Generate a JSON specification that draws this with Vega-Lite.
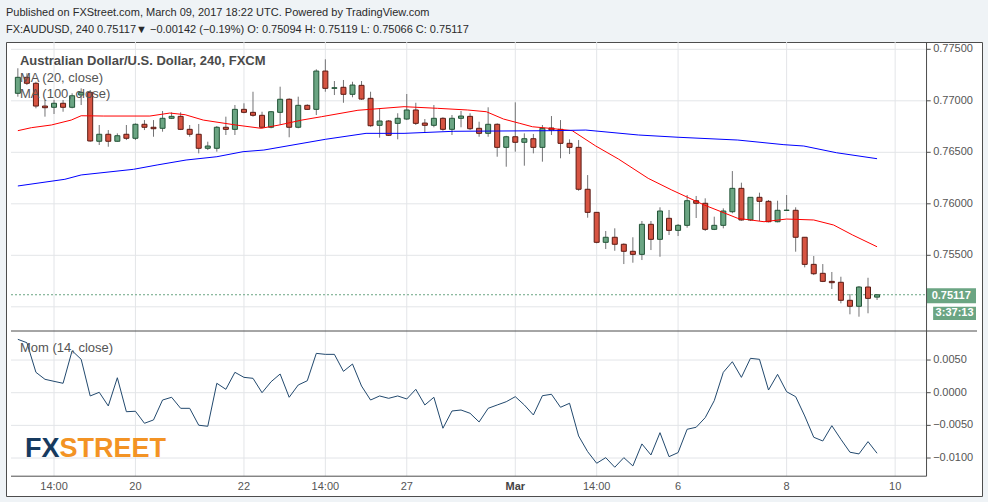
{
  "$schema": "https://vega.github.io/schema/vega-lite/v6.json",
  "width": 976,
  "height": 454,
  "autosize": "none",
  "padding": {"left": 6, "top": 42, "right": 6, "bottom": 6},
  "background": "#eff3f6",
  "title": {
    "text": ["Published on FXStreet.com, March 09, 2017 18:22 UTC. Powered by TradingView.com", "FX:AUDUSD, 240 0.75117▼  −0.00142 (−0.19%)  O: 0.75094  H: 0.75119  L: 0.75066  C: 0.75117"],
    "anchor": "start",
    "frame": "group",
    "font": "Liberation Sans",
    "fontSize": 11,
    "fontWeight": "normal",
    "color": "#2a2a2a",
    "lineHeight": 17,
    "offset": 7
  },
  "config": {
    "view": {"stroke": "#4d4d4d", "fill": "#ffffff", "strokeWidth": 1}
  },
  "datasets": {
    "ticks": [{"i": -9, "t": "14:00"}, {"i": 0, "t": "20"}, {"i": 12, "t": "22"}, {"i": 21, "t": "14:00"}, {"i": 30, "t": "27"}, {"i": 42, "t": "Mar"}, {"i": 51, "t": "14:00"}, {"i": 60, "t": "6"}, {"i": 72, "t": "8"}, {"i": 84, "t": "10"}],
    "priceGrid": [{"v": 0.750}, {"v": 0.755}, {"v": 0.760}, {"v": 0.765}, {"v": 0.770}, {"v": 0.775}],
    "momGrid": [{"v": -0.010}, {"v": -0.005}, {"v": 0.0}, {"v": 0.005}],
    "candles": [
      {"i": -13, "o": 0.77073, "h": 0.77316, "l": 0.77040, "c": 0.77228},
      {"i": -12, "o": 0.77228, "h": 0.77267, "l": 0.77153, "c": 0.77170},
      {"i": -11, "o": 0.77170, "h": 0.77185, "l": 0.76927, "c": 0.76949},
      {"i": -10, "o": 0.76949, "h": 0.77008, "l": 0.76846, "c": 0.76933},
      {"i": -9, "o": 0.76937, "h": 0.77008, "l": 0.76872, "c": 0.76976},
      {"i": -8, "o": 0.76976, "h": 0.77008, "l": 0.76894, "c": 0.76937},
      {"i": -7, "o": 0.76937, "h": 0.77073, "l": 0.76927, "c": 0.77049},
      {"i": -6, "o": 0.77056, "h": 0.77121, "l": 0.76959, "c": 0.77082},
      {"i": -5, "o": 0.77082, "h": 0.77105, "l": 0.76603, "c": 0.76610},
      {"i": -4, "o": 0.76607, "h": 0.76765, "l": 0.76571, "c": 0.76675},
      {"i": -3, "o": 0.76675, "h": 0.76716, "l": 0.76554, "c": 0.76607},
      {"i": -2, "o": 0.76607, "h": 0.76684, "l": 0.76603, "c": 0.76661},
      {"i": -1, "o": 0.76675, "h": 0.76765, "l": 0.76619, "c": 0.76636},
      {"i": 0, "o": 0.76636, "h": 0.76781, "l": 0.76619, "c": 0.76772},
      {"i": 1, "o": 0.76772, "h": 0.76813, "l": 0.76716, "c": 0.76743},
      {"i": 2, "o": 0.76743, "h": 0.76813, "l": 0.76651, "c": 0.76729},
      {"i": 3, "o": 0.76733, "h": 0.76901, "l": 0.76700, "c": 0.76830},
      {"i": 4, "o": 0.76830, "h": 0.76888, "l": 0.76823, "c": 0.76849},
      {"i": 5, "o": 0.76849, "h": 0.76888, "l": 0.76716, "c": 0.76723},
      {"i": 6, "o": 0.76723, "h": 0.76765, "l": 0.76651, "c": 0.76675},
      {"i": 7, "o": 0.76675, "h": 0.76775, "l": 0.76490, "c": 0.76539},
      {"i": 8, "o": 0.76539, "h": 0.76603, "l": 0.76522, "c": 0.76561},
      {"i": 9, "o": 0.76539, "h": 0.76755, "l": 0.76506, "c": 0.76743},
      {"i": 10, "o": 0.76743, "h": 0.76846, "l": 0.76668, "c": 0.76723},
      {"i": 11, "o": 0.76723, "h": 0.76959, "l": 0.76668, "c": 0.76917},
      {"i": 12, "o": 0.76917, "h": 0.76976, "l": 0.76879, "c": 0.76888},
      {"i": 13, "o": 0.76888, "h": 0.77088, "l": 0.76846, "c": 0.76859},
      {"i": 14, "o": 0.76859, "h": 0.76894, "l": 0.76733, "c": 0.76743},
      {"i": 15, "o": 0.76743, "h": 0.76901, "l": 0.76733, "c": 0.76894},
      {"i": 16, "o": 0.76888, "h": 0.77137, "l": 0.76765, "c": 0.77015},
      {"i": 17, "o": 0.77015, "h": 0.77024, "l": 0.76646, "c": 0.76743},
      {"i": 18, "o": 0.76743, "h": 0.77040, "l": 0.76733, "c": 0.76956},
      {"i": 19, "o": 0.76956, "h": 0.76966, "l": 0.76911, "c": 0.76917},
      {"i": 20, "o": 0.76917, "h": 0.77306, "l": 0.76862, "c": 0.77289},
      {"i": 21, "o": 0.77289, "h": 0.77403, "l": 0.77088, "c": 0.77121},
      {"i": 22, "o": 0.77121, "h": 0.77192, "l": 0.77056, "c": 0.77127},
      {"i": 23, "o": 0.77131, "h": 0.77202, "l": 0.76981, "c": 0.77063},
      {"i": 24, "o": 0.77063, "h": 0.77185, "l": 0.77034, "c": 0.77153},
      {"i": 25, "o": 0.77150, "h": 0.77192, "l": 0.77008, "c": 0.77017},
      {"i": 26, "o": 0.77024, "h": 0.77088, "l": 0.76748, "c": 0.76758},
      {"i": 27, "o": 0.76762, "h": 0.76927, "l": 0.76642, "c": 0.76804},
      {"i": 28, "o": 0.76804, "h": 0.76813, "l": 0.76658, "c": 0.76665},
      {"i": 29, "o": 0.76781, "h": 0.76879, "l": 0.76626, "c": 0.76830},
      {"i": 30, "o": 0.76823, "h": 0.77066, "l": 0.76813, "c": 0.76911},
      {"i": 31, "o": 0.76911, "h": 0.76981, "l": 0.76765, "c": 0.76781},
      {"i": 32, "o": 0.76784, "h": 0.76823, "l": 0.76690, "c": 0.76762},
      {"i": 33, "o": 0.76762, "h": 0.76959, "l": 0.76743, "c": 0.76830},
      {"i": 34, "o": 0.76830, "h": 0.76840, "l": 0.76710, "c": 0.76723},
      {"i": 35, "o": 0.76723, "h": 0.76862, "l": 0.76668, "c": 0.76830},
      {"i": 36, "o": 0.76830, "h": 0.76901, "l": 0.76743, "c": 0.76852},
      {"i": 37, "o": 0.76849, "h": 0.76879, "l": 0.76716, "c": 0.76729},
      {"i": 38, "o": 0.76733, "h": 0.76797, "l": 0.76651, "c": 0.76684},
      {"i": 39, "o": 0.76684, "h": 0.76937, "l": 0.76651, "c": 0.76772},
      {"i": 40, "o": 0.76772, "h": 0.76781, "l": 0.76457, "c": 0.76548},
      {"i": 41, "o": 0.76548, "h": 0.76660, "l": 0.76360, "c": 0.76651},
      {"i": 42, "o": 0.76651, "h": 0.76985, "l": 0.76506, "c": 0.76597},
      {"i": 43, "o": 0.76597, "h": 0.76684, "l": 0.76370, "c": 0.76632},
      {"i": 44, "o": 0.76632, "h": 0.76678, "l": 0.76490, "c": 0.76548},
      {"i": 45, "o": 0.76548, "h": 0.76765, "l": 0.76409, "c": 0.76733},
      {"i": 46, "o": 0.76736, "h": 0.76852, "l": 0.76668, "c": 0.76716},
      {"i": 47, "o": 0.76723, "h": 0.76813, "l": 0.76442, "c": 0.76587},
      {"i": 48, "o": 0.76587, "h": 0.76626, "l": 0.76483, "c": 0.76548},
      {"i": 49, "o": 0.76548, "h": 0.76619, "l": 0.76127, "c": 0.76141},
      {"i": 50, "o": 0.76141, "h": 0.76279, "l": 0.75865, "c": 0.75917},
      {"i": 51, "o": 0.75917, "h": 0.75917, "l": 0.75616, "c": 0.75626},
      {"i": 52, "o": 0.75626, "h": 0.75736, "l": 0.75561, "c": 0.75675},
      {"i": 53, "o": 0.75675, "h": 0.75762, "l": 0.75544, "c": 0.75607},
      {"i": 54, "o": 0.75607, "h": 0.75616, "l": 0.75415, "c": 0.75539},
      {"i": 55, "o": 0.75539, "h": 0.75675, "l": 0.75428, "c": 0.75509},
      {"i": 56, "o": 0.75509, "h": 0.75833, "l": 0.75454, "c": 0.75801},
      {"i": 57, "o": 0.75801, "h": 0.75833, "l": 0.75551, "c": 0.75655},
      {"i": 58, "o": 0.75655, "h": 0.75966, "l": 0.75486, "c": 0.75930},
      {"i": 59, "o": 0.75859, "h": 0.75940, "l": 0.75697, "c": 0.75742},
      {"i": 60, "o": 0.75742, "h": 0.75804, "l": 0.75687, "c": 0.75791},
      {"i": 61, "o": 0.75791, "h": 0.76085, "l": 0.75768, "c": 0.76030},
      {"i": 62, "o": 0.76030, "h": 0.76076, "l": 0.75862, "c": 0.76005},
      {"i": 63, "o": 0.76005, "h": 0.76053, "l": 0.75736, "c": 0.75752},
      {"i": 64, "o": 0.75752, "h": 0.75875, "l": 0.75745, "c": 0.75791},
      {"i": 65, "o": 0.75791, "h": 0.75956, "l": 0.75762, "c": 0.75930},
      {"i": 66, "o": 0.75923, "h": 0.76318, "l": 0.75908, "c": 0.76150},
      {"i": 67, "o": 0.76150, "h": 0.76205, "l": 0.75836, "c": 0.75843},
      {"i": 68, "o": 0.75843, "h": 0.76063, "l": 0.75833, "c": 0.76063},
      {"i": 69, "o": 0.76063, "h": 0.76108, "l": 0.75833, "c": 0.76024},
      {"i": 70, "o": 0.76024, "h": 0.76037, "l": 0.75820, "c": 0.75826},
      {"i": 71, "o": 0.75826, "h": 0.76030, "l": 0.75820, "c": 0.75937},
      {"i": 72, "o": 0.75936, "h": 0.76085, "l": 0.75930, "c": 0.75938},
      {"i": 73, "o": 0.75937, "h": 0.75966, "l": 0.75535, "c": 0.75675},
      {"i": 74, "o": 0.75675, "h": 0.75675, "l": 0.75383, "c": 0.75412},
      {"i": 75, "o": 0.75412, "h": 0.75493, "l": 0.75308, "c": 0.75321},
      {"i": 76, "o": 0.75325, "h": 0.75415, "l": 0.75240, "c": 0.75247},
      {"i": 77, "o": 0.75247, "h": 0.75338, "l": 0.75173, "c": 0.75234},
      {"i": 78, "o": 0.75238, "h": 0.75292, "l": 0.75034, "c": 0.75063},
      {"i": 79, "o": 0.75063, "h": 0.75124, "l": 0.74927, "c": 0.75005},
      {"i": 80, "o": 0.75005, "h": 0.75202, "l": 0.74904, "c": 0.75192},
      {"i": 81, "o": 0.75192, "h": 0.75282, "l": 0.74937, "c": 0.75082},
      {"i": 82, "o": 0.75094, "h": 0.75119, "l": 0.75066, "c": 0.75117}
    ],
    "ma20": [
      {"i": -13, "v": 0.76710}, {"i": -11.5, "v": 0.76739}, {"i": -9.3, "v": 0.76765}, {"i": -7.1, "v": 0.76813},
      {"i": -6, "v": 0.76855}, {"i": -3.5, "v": 0.76852}, {"i": 1.6, "v": 0.76852}, {"i": 3.8, "v": 0.76881},
      {"i": 5.5, "v": 0.76865}, {"i": 7.5, "v": 0.76813}, {"i": 11.1, "v": 0.76765}, {"i": 13.9, "v": 0.76733},
      {"i": 15.9, "v": 0.76765}, {"i": 18.4, "v": 0.76813}, {"i": 20.6, "v": 0.76846}, {"i": 24.6, "v": 0.76908},
      {"i": 29.7, "v": 0.76943}, {"i": 33.4, "v": 0.76927}, {"i": 36.7, "v": 0.76911}, {"i": 38.8, "v": 0.76894},
      {"i": 40.7, "v": 0.76823}, {"i": 42.5, "v": 0.76781}, {"i": 43.9, "v": 0.76748}, {"i": 45.8, "v": 0.76733},
      {"i": 48.3, "v": 0.76710}, {"i": 50.9, "v": 0.76561}, {"i": 53.4, "v": 0.76435}, {"i": 56.7, "v": 0.76247},
      {"i": 59.3, "v": 0.76134}, {"i": 62.9, "v": 0.75988}, {"i": 66.6, "v": 0.75859}, {"i": 69.5, "v": 0.75826},
      {"i": 72, "v": 0.75852}, {"i": 75, "v": 0.75843}, {"i": 77.2, "v": 0.75794}, {"i": 79.3, "v": 0.75697},
      {"i": 82, "v": 0.75583}
    ],
    "ma100": [
      {"i": -13, "v": 0.76173}, {"i": -7.8, "v": 0.76238}, {"i": -6, "v": 0.76280}, {"i": -0.2, "v": 0.76335},
      {"i": 2.4, "v": 0.76377}, {"i": 5.6, "v": 0.76425}, {"i": 9, "v": 0.76457}, {"i": 11.9, "v": 0.76506},
      {"i": 14.2, "v": 0.76522}, {"i": 21, "v": 0.76626}, {"i": 25.5, "v": 0.76684}, {"i": 29.7, "v": 0.76684},
      {"i": 35.2, "v": 0.76704}, {"i": 46.1, "v": 0.76710}, {"i": 49.8, "v": 0.76716}, {"i": 55.6, "v": 0.76668},
      {"i": 60, "v": 0.76646}, {"i": 66.6, "v": 0.76619}, {"i": 71.7, "v": 0.76574}, {"i": 73.9, "v": 0.76561},
      {"i": 77.5, "v": 0.76496}, {"i": 82, "v": 0.76438}
    ],
    "mom": [
      {"i": -13, "m": 0.00817}, {"i": -12, "m": 0.00765}, {"i": -11, "m": 0.00312}, {"i": -10, "m": 0.00205},
      {"i": -9, "m": 0.00174}, {"i": -8, "m": 0.00144}, {"i": -7, "m": 0.00642}, {"i": -6, "m": 0.00511},
      {"i": -5, "m": -0.0005}, {"i": -4, "m": 0.00006}, {"i": -3, "m": -0.00203}, {"i": -2, "m": 0.00229},
      {"i": -1, "m": -0.00291}, {"i": 0, "m": -0.00284}, {"i": 1, "m": -0.00468}, {"i": 2, "m": -0.00417},
      {"i": 3, "m": -0.00112}, {"i": 4, "m": -0.0007}, {"i": 5, "m": -0.00239}, {"i": 6, "m": -0.00239},
      {"i": 7, "m": -0.00498}, {"i": 8, "m": -0.00514}, {"i": 9, "m": 0.00144}, {"i": 10, "m": 0.00052},
      {"i": 11, "m": 0.00312}, {"i": 12, "m": 0.00235}, {"i": 13, "m": 0.0022}, {"i": 14, "m": 0.0},
      {"i": 15, "m": 0.00168}, {"i": 16, "m": 0.00286}, {"i": 17, "m": -0.0007}, {"i": 18, "m": 0.00118},
      {"i": 19, "m": 0.00183}, {"i": 20, "m": 0.00602}, {"i": 21, "m": 0.00587}, {"i": 22, "m": 0.00587},
      {"i": 23, "m": 0.00327}, {"i": 24, "m": 0.00439}, {"i": 25, "m": 0.00102}, {"i": 26, "m": -0.00112},
      {"i": 27, "m": -0.0005}, {"i": 28, "m": -0.00086}, {"i": 29, "m": -0.0005}, {"i": 30, "m": -0.00096},
      {"i": 31, "m": 0.00052}, {"i": 32, "m": -0.00188}, {"i": 33, "m": -0.0007}, {"i": 34, "m": -0.00544},
      {"i": 35, "m": -0.0028}, {"i": 36, "m": -0.00265}, {"i": 37, "m": -0.00315}, {"i": 38, "m": -0.00448},
      {"i": 39, "m": -0.00239}, {"i": 40, "m": -0.00188}, {"i": 41, "m": -0.00138}, {"i": 42, "m": -0.00061},
      {"i": 43, "m": -0.00188}, {"i": 44, "m": -0.00341}, {"i": 45, "m": -0.00046}, {"i": 46, "m": -0.00024},
      {"i": 47, "m": -0.00223}, {"i": 48, "m": -0.00162}, {"i": 49, "m": -0.00662}, {"i": 50, "m": -0.00902},
      {"i": 51, "m": -0.0108}, {"i": 52, "m": -0.00994}, {"i": 53, "m": -0.01141}, {"i": 54, "m": -0.00994},
      {"i": 55, "m": -0.01121}, {"i": 56, "m": -0.00784}, {"i": 57, "m": -0.00953}, {"i": 58, "m": -0.00612},
      {"i": 59, "m": -0.00979}, {"i": 60, "m": -0.00917}, {"i": 61, "m": -0.0056}, {"i": 62, "m": -0.00529},
      {"i": 63, "m": -0.00382}, {"i": 64, "m": -0.00122}, {"i": 65, "m": 0.00312}, {"i": 66, "m": 0.00474},
      {"i": 67, "m": 0.00235}, {"i": 68, "m": 0.00526}, {"i": 69, "m": 0.00511}, {"i": 70, "m": 0.00041},
      {"i": 71, "m": 0.00281}, {"i": 72, "m": 0.00015}, {"i": 73, "m": -0.00061}, {"i": 74, "m": -0.00356},
      {"i": 75, "m": -0.00682}, {"i": 76, "m": -0.00739}, {"i": 77, "m": -0.00505}, {"i": 78, "m": -0.00713},
      {"i": 79, "m": -0.00911}, {"i": 80, "m": -0.00937}, {"i": 81, "m": -0.00749}, {"i": 82, "m": -0.00927}
    ]
  },
  "resolve": {"scale": {"y": "independent"}},
  "layer": [
    {
      "layer": [
        {
          "data": {"name": "ticks"},
          "mark": {"type": "rule", "color": "#e3e5e8", "strokeWidth": 1},
          "encoding": {
            "x": {"field": "i", "type": "quantitative", "scale": {"domain": [-13.757, 93.05], "nice": false, "zero": false}, "axis": null},
            "y": {"datum": 0.775709, "type": "quantitative", "scale": {"domain": [0.731631, 0.775709], "nice": false, "zero": false}, "axis": null},
            "y2": {"datum": 0.733573}
          }
        },
        {
          "data": {"name": "priceGrid"},
          "mark": {"type": "rule", "color": "#e3e5e8", "strokeWidth": 1},
          "encoding": {
            "y": {"field": "v", "type": "quantitative", "scale": {"domain": [0.731631, 0.775709], "nice": false, "zero": false}, "axis": null},
            "x": {"datum": -13.757, "type": "quantitative", "scale": {"domain": [-13.757, 93.05], "nice": false, "zero": false}, "axis": null},
            "x2": {"datum": 87.47}
          }
        },
        {
          "data": {"name": "priceGrid"},
          "transform": [{"filter": "datum.v > 0.7525"}],
          "mark": {"type": "rule", "color": "#4d4d4d", "strokeWidth": 1},
          "encoding": {
            "y": {"field": "v", "type": "quantitative", "scale": {"domain": [0.731631, 0.775709], "nice": false, "zero": false}, "axis": null},
            "x": {"datum": 87.47, "type": "quantitative", "scale": {"domain": [-13.757, 93.05], "nice": false, "zero": false}, "axis": null},
            "x2": {"datum": 87.93}
          }
        },
        {
          "data": {"name": "priceGrid"},
          "transform": [{"filter": "datum.v > 0.7525"}],
          "mark": {"type": "text", "color": "#555555", "font": "Liberation Sans", "fontSize": 11, "align": "left", "baseline": "middle"},
          "encoding": {
            "y": {"field": "v", "type": "quantitative", "scale": {"domain": [0.731631, 0.775709], "nice": false, "zero": false}, "axis": null},
            "x": {"datum": 88.2, "type": "quantitative", "scale": {"domain": [-13.757, 93.05], "nice": false, "zero": false}, "axis": null},
            "text": {"field": "v", "type": "quantitative", "format": ".5f"}
          }
        },
        {
          "data": {"values": [{"p": 0.75117}]},
          "mark": {"type": "rule", "color": "#6ba583", "strokeWidth": 1, "strokeDash": [2, 2]},
          "encoding": {
            "y": {"field": "p", "type": "quantitative", "scale": {"domain": [0.731631, 0.775709], "nice": false, "zero": false}, "axis": null},
            "x": {"datum": -13.757, "type": "quantitative", "scale": {"domain": [-13.757, 93.05], "nice": false, "zero": false}, "axis": null},
            "x2": {"datum": 87.47}
          }
        },
        {
          "data": {"name": "candles"},
          "mark": {"type": "rule", "color": "#737375", "strokeWidth": 1},
          "encoding": {
            "x": {"field": "i", "type": "quantitative", "scale": {"domain": [-13.757, 93.05], "nice": false, "zero": false}, "axis": null},
            "y": {"field": "l", "type": "quantitative", "scale": {"domain": [0.731631, 0.775709], "nice": false, "zero": false}, "axis": null},
            "y2": {"field": "h"}
          }
        },
        {
          "data": {"name": "candles"},
          "mark": {"type": "bar", "size": 5, "strokeWidth": 1},
          "encoding": {
            "x": {"field": "i", "type": "quantitative", "scale": {"domain": [-13.757, 93.05], "nice": false, "zero": false}, "axis": null},
            "y": {"field": "o", "type": "quantitative", "scale": {"domain": [0.731631, 0.775709], "nice": false, "zero": false}, "axis": null},
            "y2": {"field": "c"},
            "fill": {"condition": {"test": "datum.c >= datum.o", "value": "#6ba583"}, "value": "#d75442"},
            "stroke": {"condition": {"test": "datum.c >= datum.o", "value": "#225437"}, "value": "#5b1a13"}
          }
        },
        {
          "data": {"name": "ma20"},
          "mark": {"type": "line", "color": "#ff0000", "strokeWidth": 1},
          "encoding": {
            "x": {"field": "i", "type": "quantitative", "scale": {"domain": [-13.757, 93.05], "nice": false, "zero": false}, "axis": null},
            "y": {"field": "v", "type": "quantitative", "scale": {"domain": [0.731631, 0.775709], "nice": false, "zero": false}, "axis": null}
          }
        },
        {
          "data": {"name": "ma100"},
          "mark": {"type": "line", "color": "#0000ff", "strokeWidth": 1},
          "encoding": {
            "x": {"field": "i", "type": "quantitative", "scale": {"domain": [-13.757, 93.05], "nice": false, "zero": false}, "axis": null},
            "y": {"field": "v", "type": "quantitative", "scale": {"domain": [0.731631, 0.775709], "nice": false, "zero": false}, "axis": null}
          }
        },
        {
          "data": {"values": [{}]},
          "mark": {"type": "rect", "color": "#6ba583"},
          "encoding": {
            "x": {"datum": 87.47, "type": "quantitative", "scale": {"domain": [-13.757, 93.05], "nice": false, "zero": false}, "axis": null},
            "x2": {"datum": 92.94},
            "y": {"datum": 0.751796, "type": "quantitative", "scale": {"domain": [0.731631, 0.775709], "nice": false, "zero": false}, "axis": null},
            "y2": {"datum": 0.75034}
          }
        },
        {
          "data": {"values": [{}]},
          "mark": {"type": "rect", "color": "#6ba583"},
          "encoding": {
            "x": {"datum": 88.2, "type": "quantitative", "scale": {"domain": [-13.757, 93.05], "nice": false, "zero": false}, "axis": null},
            "x2": {"datum": 92.94},
            "y": {"datum": 0.75001, "type": "quantitative", "scale": {"domain": [0.731631, 0.775709], "nice": false, "zero": false}, "axis": null},
            "y2": {"datum": 0.748718}
          }
        },
        {
          "data": {"values": [{"t": "0.75117", "x": 90.2, "p": 0.751068}, {"t": "3:37:13", "x": 90.57, "p": 0.749369}]},
          "mark": {"type": "text", "color": "#ffffff", "font": "Liberation Sans", "fontSize": 11, "fontWeight": "bold", "align": "center", "baseline": "middle"},
          "encoding": {
            "x": {"field": "x", "type": "quantitative", "scale": {"domain": [-13.757, 93.05], "nice": false, "zero": false}, "axis": null},
            "y": {"field": "p", "type": "quantitative", "scale": {"domain": [0.731631, 0.775709], "nice": false, "zero": false}, "axis": null},
            "text": {"field": "t"}
          }
        },
        {
          "data": {"values": [{}]},
          "mark": {"type": "text", "color": "#4a4a4a", "font": "Liberation Sans", "fontSize": 13, "fontWeight": "bold", "align": "left", "baseline": "middle"},
          "encoding": {
            "x": {"datum": -12.77, "type": "quantitative", "scale": {"domain": [-13.757, 93.05], "nice": false, "zero": false}, "axis": null},
            "y": {"datum": 0.773864, "type": "quantitative", "scale": {"domain": [0.731631, 0.775709], "nice": false, "zero": false}, "axis": null},
            "text": {"value": "Australian Dollar/U.S. Dollar, 240, FXCM"}
          }
        },
        {
          "data": {"values": [{"t": "MA (20, close)", "p": 0.772262}, {"t": "MA (100, close)", "p": 0.77066}]},
          "mark": {"type": "text", "color": "#555555", "font": "Liberation Sans", "fontSize": 13, "align": "left", "baseline": "middle"},
          "encoding": {
            "x": {"datum": -12.77, "type": "quantitative", "scale": {"domain": [-13.757, 93.05], "nice": false, "zero": false}, "axis": null},
            "y": {"field": "p", "type": "quantitative", "scale": {"domain": [0.731631, 0.775709], "nice": false, "zero": false}, "axis": null},
            "text": {"field": "t"}
          }
        }
      ]
    },
    {
      "layer": [
        {
          "data": {"name": "momGrid"},
          "mark": {"type": "rule", "color": "#e3e5e8", "strokeWidth": 1},
          "encoding": {
            "y": {"field": "v", "type": "quantitative", "scale": {"domain": [-0.015812, 0.053681], "nice": false, "zero": false}, "axis": null},
            "x": {"datum": -13.757, "type": "quantitative", "scale": {"domain": [-13.757, 93.05], "nice": false, "zero": false}, "axis": null},
            "x2": {"datum": 87.47}
          }
        },
        {
          "data": {"name": "momGrid"},
          "mark": {"type": "rule", "color": "#4d4d4d", "strokeWidth": 1},
          "encoding": {
            "y": {"field": "v", "type": "quantitative", "scale": {"domain": [-0.015812, 0.053681], "nice": false, "zero": false}, "axis": null},
            "x": {"datum": 87.47, "type": "quantitative", "scale": {"domain": [-13.757, 93.05], "nice": false, "zero": false}, "axis": null},
            "x2": {"datum": 87.93}
          }
        },
        {
          "data": {"name": "momGrid"},
          "mark": {"type": "text", "color": "#555555", "font": "Liberation Sans", "fontSize": 11, "align": "left", "baseline": "middle"},
          "encoding": {
            "y": {"field": "v", "type": "quantitative", "scale": {"domain": [-0.015812, 0.053681], "nice": false, "zero": false}, "axis": null},
            "x": {"datum": 88.2, "type": "quantitative", "scale": {"domain": [-13.757, 93.05], "nice": false, "zero": false}, "axis": null},
            "text": {"field": "v", "type": "quantitative", "format": ".4f"}
          }
        },
        {
          "data": {"name": "mom"},
          "mark": {"type": "line", "color": "#22496e", "strokeWidth": 1},
          "encoding": {
            "x": {"field": "i", "type": "quantitative", "scale": {"domain": [-13.757, 93.05], "nice": false, "zero": false}, "axis": null},
            "y": {"field": "m", "type": "quantitative", "scale": {"domain": [-0.015812, 0.053681], "nice": false, "zero": false}, "axis": null}
          }
        },
        {
          "data": {"values": [{"m": 0.009444, "x1": -13.757, "x2": 93.05}, {"m": -0.012781, "x1": -13.757, "x2": 87.47}]},
          "mark": {"type": "rule", "color": "#4d4d4d", "strokeWidth": 1},
          "encoding": {
            "y": {"field": "m", "type": "quantitative", "scale": {"domain": [-0.015812, 0.053681], "nice": false, "zero": false}, "axis": null},
            "x": {"field": "x1", "type": "quantitative", "scale": {"domain": [-13.757, 93.05], "nice": false, "zero": false}, "axis": null},
            "x2": {"field": "x2"}
          }
        },
        {
          "data": {"values": [{}]},
          "mark": {"type": "rule", "color": "#4d4d4d", "strokeWidth": 1},
          "encoding": {
            "x": {"datum": 87.47, "type": "quantitative", "scale": {"domain": [-13.757, 93.05], "nice": false, "zero": false}, "axis": null},
            "y": {"datum": 0.053681, "type": "quantitative", "scale": {"domain": [-0.015812, 0.053681], "nice": false, "zero": false}, "axis": null},
            "y2": {"datum": -0.012781}
          }
        },
        {
          "data": {"name": "ticks"},
          "transform": [{"filter": "datum.t != 'Mar'"}],
          "mark": {"type": "text", "color": "#555555", "font": "Liberation Sans", "fontSize": 11, "align": "center", "baseline": "middle"},
          "encoding": {
            "x": {"field": "i", "type": "quantitative", "scale": {"domain": [-13.757, 93.05], "nice": false, "zero": false}, "axis": null},
            "y": {"datum": -0.014434, "type": "quantitative", "scale": {"domain": [-0.015812, 0.053681], "nice": false, "zero": false}, "axis": null},
            "text": {"field": "t"}
          }
        },
        {
          "data": {"name": "ticks"},
          "transform": [{"filter": "datum.t == 'Mar'"}],
          "mark": {"type": "text", "color": "#444444", "font": "Liberation Sans", "fontSize": 11, "fontWeight": "bold", "align": "center", "baseline": "middle"},
          "encoding": {
            "x": {"field": "i", "type": "quantitative", "scale": {"domain": [-13.757, 93.05], "nice": false, "zero": false}, "axis": null},
            "y": {"datum": -0.014434, "type": "quantitative", "scale": {"domain": [-0.015812, 0.053681], "nice": false, "zero": false}, "axis": null},
            "text": {"field": "t"}
          }
        },
        {
          "data": {"values": [{}]},
          "mark": {"type": "text", "color": "#555555", "font": "Liberation Sans", "fontSize": 13, "align": "left", "baseline": "middle"},
          "encoding": {
            "x": {"datum": -12.77, "type": "quantitative", "scale": {"domain": [-13.757, 93.05], "nice": false, "zero": false}, "axis": null},
            "y": {"datum": 0.006796, "type": "quantitative", "scale": {"domain": [-0.015812, 0.053681], "nice": false, "zero": false}, "axis": null},
            "text": {"value": "Mom (14, close)"}
          }
        },
        {
          "data": {"values": [{"t": "FX", "x": -12.22, "k": "a"}, {"t": "STREET", "x": -8.39, "k": "b"}]},
          "mark": {"type": "text", "font": "Liberation Sans", "fontSize": 27, "fontWeight": "bold", "align": "left", "baseline": "alphabetic"},
          "encoding": {
            "x": {"field": "x", "type": "quantitative", "scale": {"domain": [-13.757, 93.05], "nice": false, "zero": false}, "axis": null},
            "y": {"datum": -0.009796, "type": "quantitative", "scale": {"domain": [-0.015812, 0.053681], "nice": false, "zero": false}, "axis": null},
            "text": {"field": "t"},
            "color": {"field": "k", "type": "nominal", "scale": {"domain": ["a", "b"], "range": ["#163a5f", "#f39324"]}, "legend": null}
          }
        }
      ]
    }
  ]
}
